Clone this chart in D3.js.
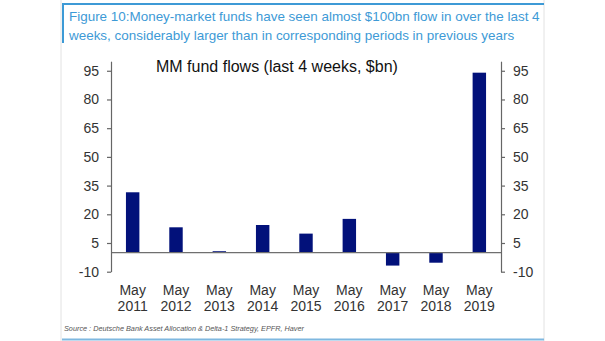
<!DOCTYPE html>
<html><head><meta charset="utf-8">
<script src="https://cdn.jsdelivr.net/npm/d3@7/dist/d3.min.js"></script>
<style>
html,body{margin:0;padding:0;background:#fff;}
svg{display:block;font-family:"Liberation Sans",Arial,Helvetica,sans-serif;}
</style></head>
<body>
<svg id="chart" width="605" height="341"></svg>
<script>
const categories = ["May 2011","May 2012","May 2013","May 2014","May 2015","May 2016","May 2017","May 2018","May 2019"];
const flows = [31.5, 13.2, 0.7, 14.4, 9.9, 17.6, -6.8, -5.3, 94.0];
const yTicks = [-10, 5, 20, 35, 50, 65, 80, 95];
const headerLines = ["Figure 10:Money-market funds have seen almost $100bn flow in over the last 4",
                     "weeks, considerably larger than in corresponding periods in previous years"];
const chartTitle = "MM fund flows (last 4 weeks, $bn)";
const sourceText = "Source : Deutsche Bank Asset Allocation & Delta-1 Strategy, EPFR, Haver";

const svg = d3.select("#chart");
const blue = "#3d9ad6";

// panel borders
svg.append("line").attr("x1",61).attr("x2",61).attr("y1",0).attr("y2",341).attr("stroke","#e2e2e2");
svg.append("line").attr("x1",544).attr("x2",544).attr("y1",0).attr("y2",341).attr("stroke","#e2e2e2");
// header frame
svg.append("line").attr("x1",62).attr("x2",544).attr("y1",4).attr("y2",4).attr("stroke",blue).attr("stroke-width",2);
svg.append("line").attr("x1",63).attr("x2",63).attr("y1",3).attr("y2",43).attr("stroke",blue).attr("stroke-width",2);
svg.append("line").attr("x1",62).attr("x2",544).attr("y1",339.5).attr("y2",339.5).attr("stroke","#7fb8e0").attr("stroke-width",2);

svg.selectAll("text.hdr").data(headerLines).join("text")
  .attr("class","hdr").attr("x",69).attr("y",(d,i)=>21+i*18.5)
  .attr("fill",blue).attr("font-size",13.45).text(d=>d);

const x = d3.scaleBand().domain(categories).range([111,501]).paddingInner(0.69).paddingOuter(0.345);
const y = d3.scaleLinear().domain([-10,100]).range([271.7,61.2]);

// bars
svg.append("g").selectAll("rect").data(flows).join("rect")
  .attr("x",(d,i)=>x(categories[i]))
  .attr("width",x.bandwidth())
  .attr("y",d=>y(Math.max(0,d)))
  .attr("height",d=>Math.abs(y(d)-y(0)))
  .attr("fill","#02117a");

// zero line
svg.append("line").attr("x1",111).attr("x2",501).attr("y1",y(0)).attr("y2",y(0))
  .attr("stroke","#6f6f6f").attr("stroke-width",1.2);

const fmt = d => String(d);
const axL = svg.append("g").attr("transform","translate(111,0)")
  .call(d3.axisLeft(y).tickValues(yTicks).tickFormat(fmt).tickSize(4).tickSizeOuter(0).tickPadding(8));
const axR = svg.append("g").attr("transform","translate(501,0)")
  .call(d3.axisRight(y).tickValues(yTicks).tickFormat(fmt).tickSize(4).tickSizeOuter(0).tickPadding(8));
[axL,axR].forEach(a=>{
  a.selectAll("path,line").attr("stroke","#666").attr("stroke-width",1.2);
  a.selectAll("text").attr("fill","#333").attr("font-size",14).attr("font-family","Liberation Sans,Arial,sans-serif");
});

// x labels
const xl = svg.append("g").selectAll("text").data(categories).join("text")
  .attr("x",d=>x(d)+x.bandwidth()/2).attr("text-anchor","middle")
  .attr("fill","#333").attr("font-size",14);
xl.append("tspan").attr("x",d=>x(d)+x.bandwidth()/2).attr("y",295).text(d=>d.split(" ")[0]);
xl.append("tspan").attr("x",d=>x(d)+x.bandwidth()/2).attr("y",310.5).text(d=>d.split(" ")[1]);

svg.append("text").attr("x",156).attr("y",72).attr("font-size",16).attr("fill","#111").text(chartTitle);

svg.append("text").attr("x",64).attr("y",330.5).attr("font-size",8).attr("font-style","italic")
  .attr("fill","#555").attr("textLength",240).attr("lengthAdjust","spacingAndGlyphs").text(sourceText);
</script>
</body></html>
